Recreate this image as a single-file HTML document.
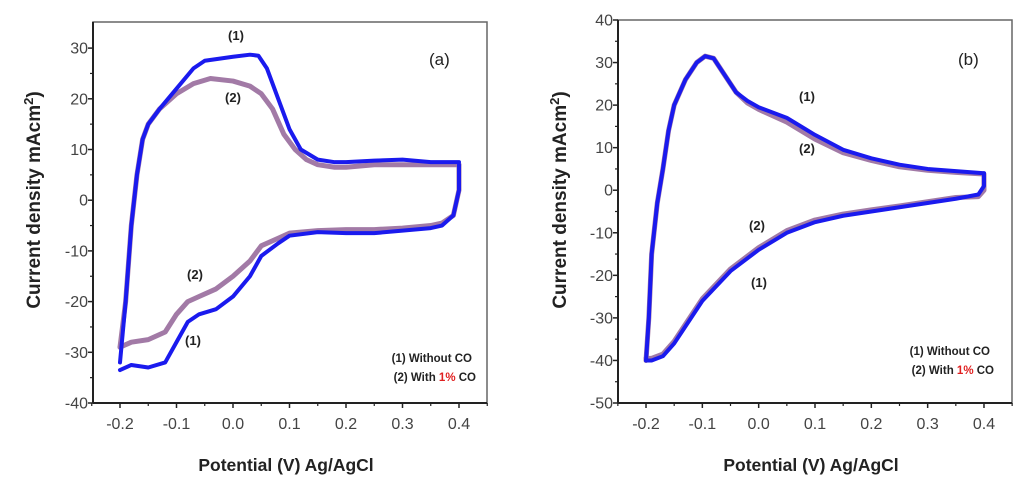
<!DOCTYPE html>
<html><head><meta charset="utf-8"><style>
body{margin:0;background:#fff;}
svg{display:block;font-family:"Liberation Sans",Arial,sans-serif;}
</style></head><body>
<svg id="fig" width="1024" height="488" viewBox="0 0 1024 488" xmlns="http://www.w3.org/2000/svg"></svg>
<script>
// ---- Panel (a) data ----
const aS1UpX=[-0.2,-0.19,-0.18,-0.17,-0.16,-0.15,-0.13,-0.1,-0.07,-0.05,0,0.03,0.045,0.06,0.08,0.1,0.12,0.15,0.18,0.2,0.25,0.3,0.35,0.4];
const aS1UpY=[-32,-20,-5,5,12,15,18,22,26,27.5,28.3,28.7,28.5,26,20,14,10,8,7.5,7.5,7.8,8,7.5,7.5];
const aS1DnX=[0.4,0.4,0.39,0.37,0.35,0.3,0.25,0.2,0.15,0.1,0.08,0.05,0.03,0,-0.03,-0.06,-0.08,-0.1,-0.12,-0.15,-0.18,-0.2];
const aS1DnY=[7,2,-3,-5,-5.5,-6,-6.5,-6.5,-6.3,-7,-8.5,-11,-15,-19,-21.5,-22.5,-24,-28,-32,-33,-32.5,-33.5];
const aS2UpX=[-0.2,-0.19,-0.18,-0.17,-0.16,-0.15,-0.13,-0.1,-0.07,-0.04,0,0.03,0.05,0.07,0.09,0.11,0.13,0.15,0.18,0.2,0.25,0.3,0.35,0.4];
const aS2UpY=[-29,-20,-5,5,12,15,18,21,23,24,23.5,22.5,21,18,13,10,8,7,6.5,6.5,7,7,7,7];
const aS2DnX=[0.4,0.4,0.39,0.37,0.35,0.3,0.25,0.2,0.15,0.1,0.08,0.05,0.03,0,-0.03,-0.06,-0.08,-0.1,-0.12,-0.15,-0.18,-0.2];
const aS2DnY=[7,2,-3,-4.5,-5,-5.5,-5.8,-5.8,-6,-6.5,-7.5,-9,-12,-15,-17.5,-19,-20,-22.5,-26,-27.5,-28,-29];
const aYTicks=[30,20,10,0,-10,-20,-30,-40];
// ---- Panel (b) data ----
const bS1UpX=[-0.2,-0.195,-0.19,-0.18,-0.17,-0.16,-0.15,-0.13,-0.11,-0.095,-0.08,-0.06,-0.04,-0.02,0,0.05,0.1,0.15,0.2,0.25,0.3,0.35,0.4];
const bS1UpY=[-40,-30,-15,-3,5,14,20,26,30,31.5,31,27,23,21,19.5,17,13,9.5,7.5,6,5,4.5,4];
const bS1DnX=[0.4,0.4,0.39,0.35,0.3,0.25,0.2,0.15,0.1,0.05,0,-0.05,-0.1,-0.13,-0.15,-0.17,-0.19,-0.2];
const bS1DnY=[4,1,-1,-2,-3,-4,-5,-6,-7.5,-10,-14,-19,-26,-32,-36,-39,-40,-40];
const bS2UpX=[-0.2,-0.195,-0.19,-0.18,-0.17,-0.16,-0.15,-0.13,-0.11,-0.095,-0.08,-0.06,-0.04,-0.02,0,0.05,0.1,0.15,0.2,0.25,0.3,0.35,0.4];
const bS2UpY=[-40,-30,-15,-3,5,14,20,26,30,31.5,31,27,23,20.5,19,16,12,8.8,7,5.5,4.7,4.2,3.8];
const bS2DnX=[0.4,0.4,0.39,0.35,0.3,0.25,0.2,0.15,0.1,0.05,0,-0.05,-0.1,-0.13,-0.15,-0.17,-0.19,-0.2];
const bS2DnY=[3.5,0,-1.5,-1.7,-2.7,-3.7,-4.6,-5.6,-7,-9.5,-13.5,-18.5,-25.5,-31.5,-35.5,-38.5,-39.5,-39.5];
const bYTicks=[40,30,20,10,0,-10,-20,-30,-40,-50];
const xTicks=[-0.2,-0.1,0.0,0.1,0.2,0.3,0.4];

const NS="http://www.w3.org/2000/svg";
const svg=document.getElementById('fig');
function mk(tag,attrs,parent){const e=document.createElementNS(NS,tag);for(const k in attrs)e.setAttribute(k,attrs[k]);(parent||svg).appendChild(e);return e;}

function panel(p){
  const g=mk('g',{});
  
  
  const sx=v=>p.L+(v-p.x0)/(p.x1-p.x0)*(p.R-p.L);
  const sy=v=>p.B-(v-p.y0)/(p.y1-p.y0)*(p.B-p.T);
  const box=mk('rect',{x:p.L,y:p.T,width:p.R-p.L,height:p.B-p.T,fill:'none',stroke:'#666','stroke-width':1.5},g);
  
  
  mk('line',{x1:p.L,y1:p.T,x2:p.L,y2:p.B,stroke:'#222','stroke-width':2},g);
  mk('line',{x1:p.L,y1:p.B,x2:p.R,y2:p.B,stroke:'#222','stroke-width':2},g);
  p.yt.forEach((v,i)=>{
    const y=sy(v);
    mk('line',{x1:p.L-5,y1:y,x2:p.L,y2:y,stroke:'#222','stroke-width':1.5},g);
    if(i<p.yt.length-1){const ym=sy(v-5);mk('line',{x1:p.L-3,y1:ym,x2:p.L,y2:ym,stroke:'#222','stroke-width':1.2},g);}
    const t=mk('text',{x:p.L-5,y:y+5.5,'text-anchor':'end','font-size':16,fill:'#444'},g);
    t.textContent=v;
    
    
  });
  xTicks.forEach((v,i)=>{
    const x=sx(v);
    mk('line',{x1:x,y1:p.B,x2:x,y2:p.B+5,stroke:'#222','stroke-width':1.5},g);
    const xm=sx(v-0.05);mk('line',{x1:xm,y1:p.B,x2:xm,y2:p.B+3,stroke:'#222','stroke-width':1.2},g);
    if(i==xTicks.length-1){const xe=sx(v+0.05);mk('line',{x1:xe,y1:p.B,x2:xe,y2:p.B+3,stroke:'#222','stroke-width':1.2},g);}
    const t=mk('text',{x:x,y:p.B+26,'text-anchor':'middle','font-size':16,fill:'#444'},g);
    t.textContent=v.toFixed(1);
    
    
  });
  const series=(xs,ys,col,w,name)=>{
    const pl=mk('polyline',{points:xs.map((x,i)=>sx(x)+','+sy(ys[i])).join(' '),fill:'none',stroke:col,'stroke-width':w,'stroke-linejoin':'round','stroke-linecap':'round'},g);
    
    
  };
  series(p.s2u[0],p.s2u[1],'#a27aa6',5,'series-with-co-anodic');
  series(p.s2d[0],p.s2d[1],'#a27aa6',5,'series-with-co-cathodic');
  series(p.s1u[0],p.s1u[1],'#1a1aee',4,'series-without-co-anodic');
  series(p.s1d[0],p.s1d[1],'#1a1aee',4,'series-without-co-cathodic');
  p.labels.forEach(l=>{
    const t=mk('text',{x:l[0],y:l[1],'text-anchor':'middle','font-size':13,'font-weight':'bold',fill:'#222'},g);
    t.textContent=l[2];
    
    
  });
  const pt=mk('text',{x:p.tag[0],y:p.tag[1],'font-size':17,fill:'#222'},g);
  pt.textContent=p.tagText;
  
  
  const l1=mk('text',{x:p.leg[0],y:p.leg[1],'text-anchor':'end','font-size':11.5,'font-weight':'bold',fill:'#222'},g);
  l1.textContent='(1) Without CO';
  
  
  const l2=mk('text',{x:p.leg[0]+4,y:p.leg[1]+19,'text-anchor':'end','font-size':11.5,'font-weight':'bold',fill:'#222'},g);
  l2.innerHTML='(2) With <tspan fill="#e02020">1%</tspan> CO';
  
  
  const xt=mk('text',{x:(p.L+p.R)/2-4,y:471,'text-anchor':'middle','font-size':17.5,'font-weight':'bold',fill:'#222'},g);
  xt.textContent='Potential (V) Ag/AgCl';
  
  
  const yt=mk('text',{x:0,y:0,'text-anchor':'middle','font-size':19,'font-weight':'bold',fill:'#222',transform:`translate(${p.ytx},${p.yty}) rotate(-90)`},g);
  yt.innerHTML='Current density mAcm<tspan dy="-7" font-size="13">2</tspan><tspan dy="7">)</tspan>';
  
  
}

panel({name:'panel-a',L:93,R:487,T:22,B:403,x0:-0.2-27/565,x1:0.4+28/565,y0:-40,y1:-40+381/5.07,
  yt:aYTicks,s1u:[aS1UpX,aS1UpY],s1d:[aS1DnX,aS1DnY],s2u:[aS2UpX,aS2UpY],s2d:[aS2DnX,aS2DnY],
  labels:[[236,40,'(1)'],[233,102,'(2)'],[195,279,'(2)'],[193,345,'(1)']],tag:[429,65],tagText:'(a)',
  leg:[472,362],ytx:40,yty:200});
panel({name:'panel-b',L:618,R:1012,T:20,B:403,x0:-0.2-28/563,x1:0.4+28/563,y0:-50,y1:40,
  yt:bYTicks,s1u:[bS1UpX,bS1UpY],s1d:[bS1DnX,bS1DnY],s2u:[bS2UpX,bS2UpY],s2d:[bS2DnX,bS2DnY],
  labels:[[807,101,'(1)'],[807,153,'(2)'],[757,230,'(2)'],[759,287,'(1)']],tag:[958,65],tagText:'(b)',
  leg:[990,355],ytx:566,yty:200});
</script>
</body></html>
